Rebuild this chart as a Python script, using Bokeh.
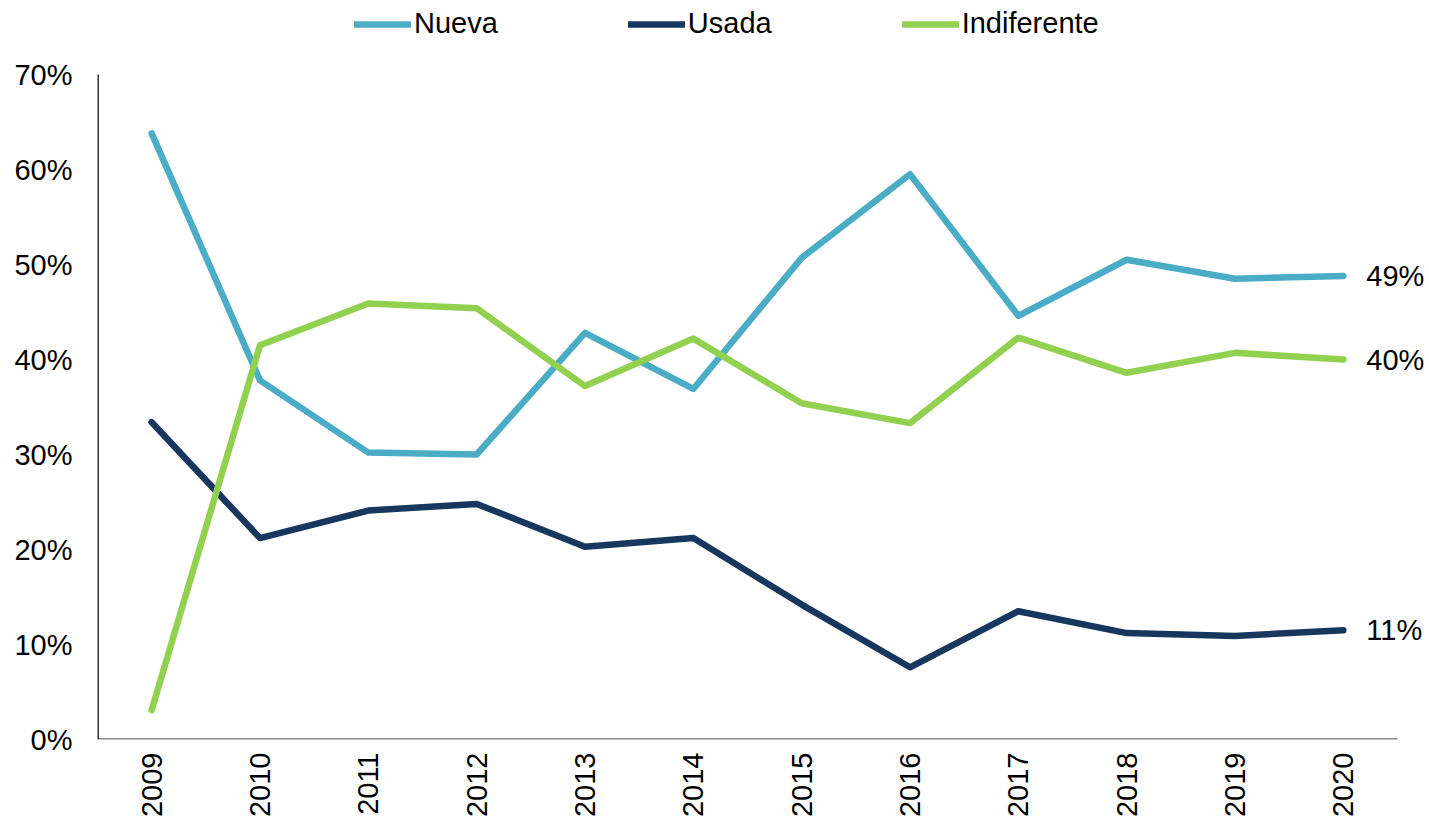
import math
from bokeh.plotting import figure
from bokeh.models import Range1d, Legend, LegendItem, Label, FixedTicker, CustomJSTickFormatter
from bokeh.embed import file_html
from bokeh.resources import INLINE

years = ["2009", "2010", "2011", "2012", "2013", "2014", "2015", "2016", "2017", "2018", "2019", "2020"]
nueva = [63.8, 37.8, 30.2, 30.0, 42.8, 36.9, 50.7, 59.5, 44.6, 50.5, 48.5, 48.8]
usada = [33.4, 21.2, 24.1, 24.8, 20.3, 21.2, 14.2, 7.6, 13.5, 11.2, 10.9, 11.5]
indiferente = [3.1, 41.5, 45.9, 45.4, 37.2, 42.2, 35.4, 33.3, 42.3, 38.6, 40.7, 40.0]
y_ticks = [0, 10, 20, 30, 40, 50, 60, 70]
end_labels = ["49%", "11%", "40%"]

FONT = "Liberation Sans"
FS = "29px"
C_NUEVA = "#4BACC6"
C_USADA = "#17375E"
C_INDIF = "#92D050"
LW = 6.5

xs = list(range(len(years)))
x_start = -0.5
x_axis_end = len(years) - 0.5
# frame extends beyond the last category to leave room for end labels / legend
x_end = x_axis_end + 32 / 108.33
y_end = 739 / 9.5

W, H = 1429, 824
p = figure(width=W, height=H, x_range=Range1d(x_start, x_end), y_range=Range1d(0, y_end),
           output_backend="svg", toolbar_location=None,
           min_border_left=97, min_border_right=0, min_border_top=0, min_border_bottom=H - 739)
p.outline_line_color = None
p.grid.grid_line_color = None
p.background_fill_color = "white"

# axis lines drawn as segments so that they stop where the original axes stop
p.segment(x0=[x_start], y0=[0], x1=[x_axis_end], y1=[0], line_color="#8c8c8c", line_width=3)
p.segment(x0=[x_start], y0=[0], x1=[x_start], y1=[y_ticks[-1]], line_color="#333333", line_width=3)

r1 = p.line(xs, nueva, line_color=C_NUEVA, line_width=LW, line_cap="round", line_join="round")
r2 = p.line(xs, usada, line_color=C_USADA, line_width=LW, line_cap="round", line_join="round")
r3 = p.line(xs, indiferente, line_color=C_INDIF, line_width=LW, line_cap="round", line_join="round")

p.yaxis.ticker = FixedTicker(ticks=y_ticks)
p.yaxis.formatter = CustomJSTickFormatter(code="return tick + '%';")
p.yaxis.major_tick_line_color = None
p.yaxis.minor_tick_line_color = None
p.yaxis.major_tick_out = 0
p.yaxis.major_tick_in = 0
p.yaxis.axis_line_color = None
p.yaxis.major_label_standoff = 25
p.yaxis.major_label_text_font = FONT
p.yaxis.major_label_text_font_size = FS
p.yaxis.major_label_text_color = "black"

p.xaxis.ticker = FixedTicker(ticks=xs)
p.xaxis.major_label_overrides = {i: y for i, y in zip(xs, years)}
p.xaxis.major_tick_line_color = None
p.xaxis.minor_tick_line_color = None
p.xaxis.major_tick_out = 0
p.xaxis.major_tick_in = 0
p.xaxis.axis_line_color = None
p.xaxis.major_label_orientation = math.pi / 2
p.xaxis.major_label_standoff = 13
p.xaxis.major_label_text_font = FONT
p.xaxis.major_label_text_font_size = FS
p.xaxis.major_label_text_color = "black"

for txt, val in zip(end_labels, [nueva[-1], usada[-1], indiferente[-1]]):
    p.add_layout(Label(x=xs[-1], y=val, text=txt, x_offset=23, text_baseline="middle",
                       text_font=FONT, text_font_size=FS, text_color="black"))

legend = Legend(items=[LegendItem(label="Nueva", renderers=[r1]),
                       LegendItem(label="Usada", renderers=[r2]),
                       LegendItem(label="Indiferente", renderers=[r3])],
                orientation="horizontal", location=(257, 699),
                glyph_width=57, glyph_height=30, label_standoff=3, spacing=130,
                padding=0, margin=0, border_line_color=None, background_fill_alpha=0,
                label_text_font=FONT, label_text_font_size=FS, label_text_color="black",
                label_height=30)
p.add_layout(legend, "center")

open("out.html", "w").write(file_html(p, INLINE))
